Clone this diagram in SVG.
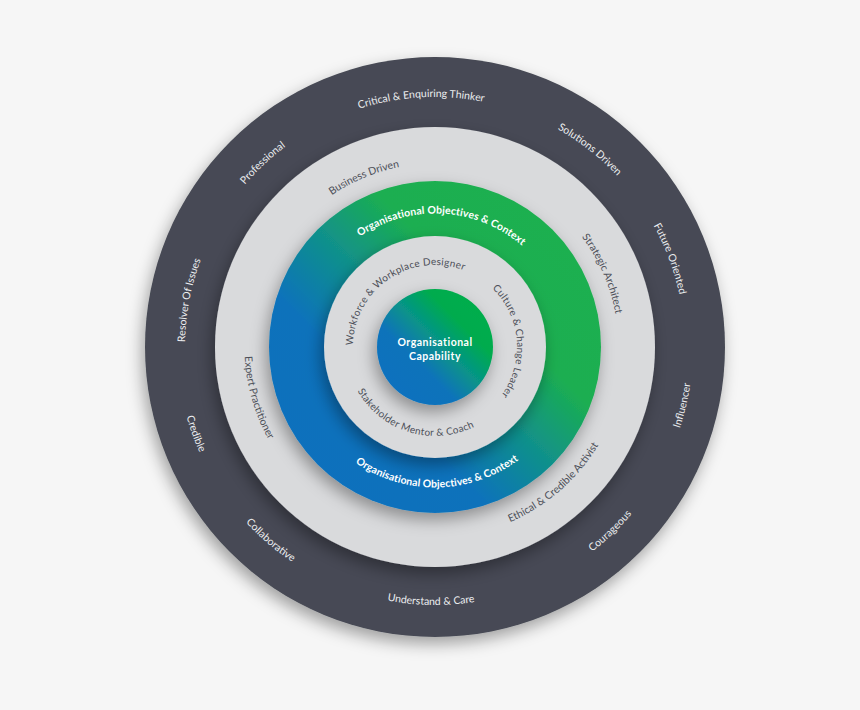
<svg xmlns="http://www.w3.org/2000/svg" width="860" height="710" viewBox="0 0 860 710">
  <defs>
    <filter id="shadow" x="-20%" y="-20%" width="140%" height="150%">
      <feDropShadow dx="-3" dy="7" stdDeviation="8" flood-color="#000" flood-opacity="0.35"/>
    </filter>
    <linearGradient id="ringGrad" x1="0.1" y1="0.9" x2="0.9" y2="0.1">
      <stop offset="0" stop-color="#0870bd"/>
      <stop offset="0.3" stop-color="#0872bb"/>
      <stop offset="0.5" stop-color="#11918a"/>
      <stop offset="0.68" stop-color="#1bae51"/>
      <stop offset="1" stop-color="#1db050"/>
    </linearGradient>
    <linearGradient id="coreGrad" x1="0.15" y1="0.85" x2="0.85" y2="0.15">
      <stop offset="0" stop-color="#0871be"/>
      <stop offset="0.3" stop-color="#0873ba"/>
      <stop offset="0.55" stop-color="#079488"/>
      <stop offset="0.8" stop-color="#00ab4e"/>
      <stop offset="1" stop-color="#00ad4c"/>
    </linearGradient>
    <!-- clockwise paths start at bottom, counter-clockwise paths start at top -->
    <path id="outerCW" d="M435,597 A250,250 0 1 1 435,97 A250,250 0 1 1 435,597"/>
    <path id="outerCCW" d="M435,89 A258,258 0 1 0 435,605 A258,258 0 1 0 435,89"/>
    <path id="midCW" d="M435,530.5 A183.5,183.5 0 1 1 435,163.5 A183.5,183.5 0 1 1 435,530.5"/>
    <path id="midCCW" d="M435,156.5 A190.5,190.5 0 1 0 435,537.5 A190.5,190.5 0 1 0 435,156.5"/>
    <path id="gradCW" d="M435,480.5 A133.5,133.5 0 1 1 435,213.5 A133.5,133.5 0 1 1 435,480.5"/>
    <path id="gradCCW" d="M435,206.5 A140.5,140.5 0 1 0 435,487.5 A140.5,140.5 0 1 0 435,206.5"/>
    <path id="innerCW" d="M435,429 A82,82 0 1 1 435,265 A82,82 0 1 1 435,429"/>
    <path id="innerCCW" d="M435,258 A89,89 0 1 0 435,436 A89,89 0 1 0 435,258"/>
  </defs>
  <style>
    .lbl { font-family: "Lato", "Open Sans", "Liberation Sans", sans-serif; text-anchor: middle; }
    .outer { font-size: 10.5px; fill: #eceef0; }
    .mid { font-size: 10.5px; fill: #4c4f58; }
    .grad { font-size: 10.5px; font-weight: bold; fill: #ffffff; letter-spacing: 0.1px; }
    .inner { font-size: 10px; fill: #4c4f58; letter-spacing: 0.3px; }
    .core { font-size: 10.5px; font-weight: bold; fill: #ffffff; letter-spacing: 0.5px; }
  </style>
  <rect width="860" height="710" fill="#f6f6f6"/>

  <g id="outer-ring">
    <circle cx="435" cy="347" r="290" fill="#474a54" filter="url(#shadow)"/>
    <text class="lbl outer"><textPath href="#outerCW" startOffset="49.11%">Critical &amp; Enquiring Thinker</textPath></text>
    <text class="lbl outer"><textPath href="#outerCW" startOffset="60.58%">Solutions Driven</textPath></text>
    <text class="lbl outer"><textPath href="#outerCW" startOffset="69.28%">Future Oriented</textPath></text>
    <text class="lbl outer"><textPath href="#outerCW" startOffset="38.03%">Professional</textPath></text>
    <text class="lbl outer"><textPath href="#outerCW" startOffset="28.0%">Resolver Of Issues</textPath></text>
    <text class="lbl outer"><textPath href="#outerCCW" startOffset="71.31%">Influencer</textPath></text>
    <text class="lbl outer"><textPath href="#outerCCW" startOffset="62.11%">Courageous</textPath></text>
    <text class="lbl outer"><textPath href="#outerCCW" startOffset="49.75%">Understand &amp; Care</textPath></text>
    <text class="lbl outer"><textPath href="#outerCCW" startOffset="38.78%">Collaborative</textPath></text>
    <text class="lbl outer"><textPath href="#outerCCW" startOffset="30.53%">Credible</textPath></text>
  </g>

  <g id="middle-ring">
    <circle cx="435" cy="347" r="220" fill="#d9dadc" filter="url(#shadow)"/>
    <text class="lbl mid"><textPath href="#midCW" startOffset="43.69%">Business Driven</textPath></text>
    <text class="lbl mid"><textPath href="#midCW" startOffset="68.44%">Strategic Architect</textPath></text>
    <text class="lbl mid"><textPath href="#midCCW" startOffset="61.42%">Ethical &amp; Credible Activist</textPath></text>
    <text class="lbl mid"><textPath href="#midCCW" startOffset="29.44%">Expert Practitioner</textPath></text>
  </g>

  <g id="context-ring">
    <circle cx="435" cy="347" r="166" fill="url(#ringGrad)" filter="url(#shadow)"/>
    <text class="lbl grad"><textPath href="#gradCW" startOffset="50.89%">Organisational Objectives &amp; Context</textPath></text>
    <text class="lbl grad"><textPath href="#gradCCW" startOffset="50.28%">Organisational Objectives &amp; Context</textPath></text>
  </g>

  <g id="inner-ring">
    <circle cx="435" cy="347" r="111" fill="#d9dadc" filter="url(#shadow)"/>
    <text class="lbl inner"><textPath href="#innerCW" startOffset="40.56%">Workforce &amp; Workplace Designer</textPath></text>
    <text class="lbl inner"><textPath href="#innerCW" startOffset="73.67%">Culture &amp; Change Leader</textPath></text>
    <text class="lbl inner"><textPath href="#innerCCW" startOffset="45.28%">Stakeholder Mentor &amp; Coach</textPath></text>
  </g>

  <g id="core">
    <circle cx="435" cy="347" r="58" fill="url(#coreGrad)" filter="url(#shadow)"/>
    <text class="lbl core" x="435" y="346">Organisational</text>
    <text class="lbl core" x="435" y="360">Capability</text>
  </g>
</svg>
